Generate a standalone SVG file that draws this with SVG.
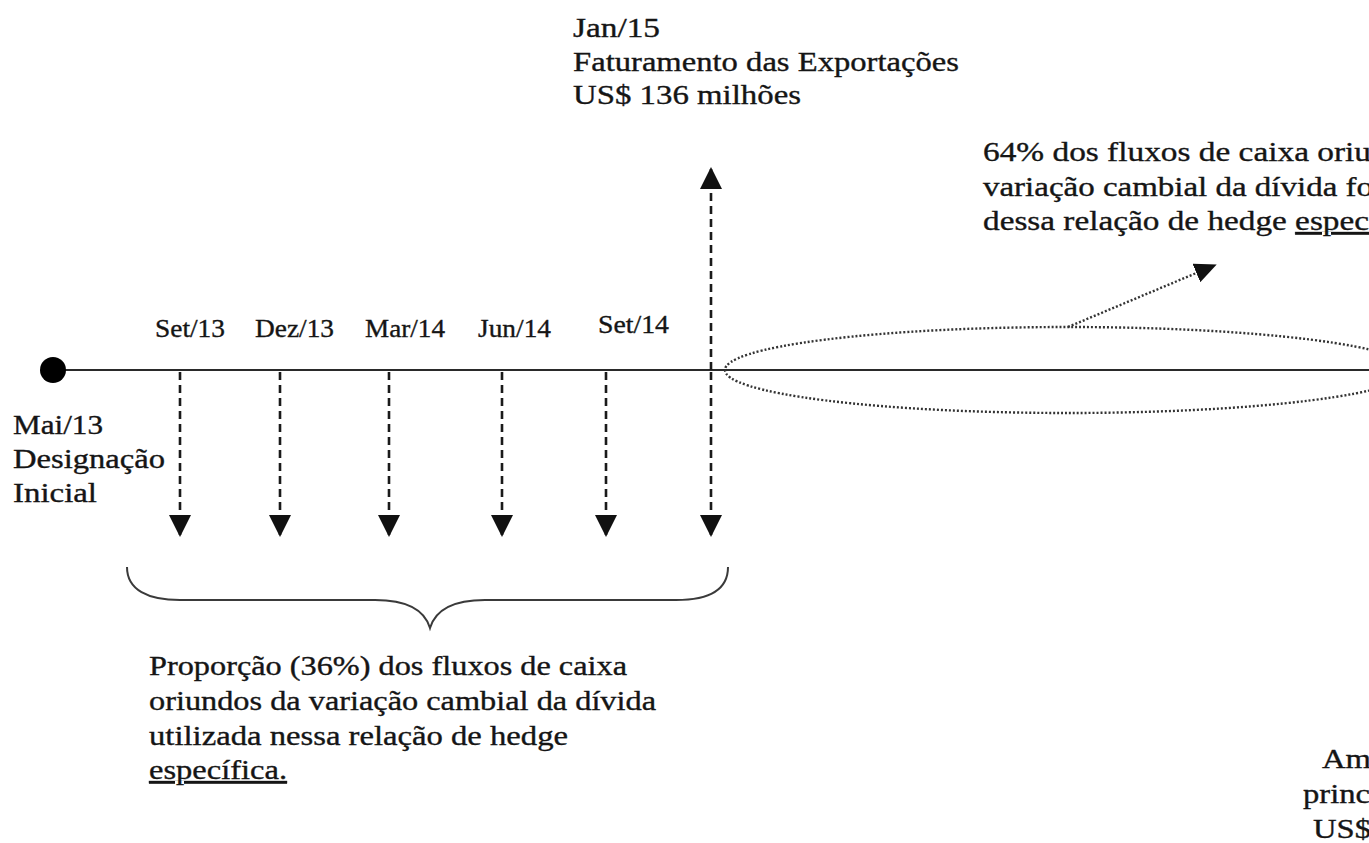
<svg xmlns="http://www.w3.org/2000/svg" width="1369" height="843" viewBox="0 0 1369 843">
  <style>
    .t { font-family: "Liberation Serif", "Times New Roman", serif; font-size: 27px; fill: #151515; stroke: #151515; stroke-width: 0.35; }
    .m { font-size: 26px; }
    .axis { stroke: #2a2a2a; stroke-width: 2.2; fill: none; }
    .flow { stroke: #1a1a1a; stroke-width: 2.6; stroke-dasharray: 8 5; fill: none; }
    .dots { stroke: #333; stroke-width: 2.4; stroke-dasharray: 2 2; fill: none; }
    .brace { stroke: #3a3a3a; stroke-width: 2; fill: none; }
  </style>
  <defs>
    <marker id="head" viewBox="0 0 22 22" refX="20" refY="11" markerWidth="22" markerHeight="22" markerUnits="userSpaceOnUse" orient="auto">
      <path d="M0,0 L22,11 L0,22 z" fill="#111"/>
    </marker>
    <marker id="headSmall" viewBox="0 0 22 20" refX="18" refY="10" markerWidth="22" markerHeight="20" markerUnits="userSpaceOnUse" orient="auto">
      <path d="M0,0 L22,10 L0,20 z" fill="#111"/>
    </marker>
  </defs>

  <rect width="1369" height="843" fill="#fff"/>

  <!-- time axis -->
  <g id="axis">
    <line class="axis" x1="53" y1="370" x2="1369" y2="370"/>
    <circle cx="53" cy="370" r="13" fill="#000"/>
  </g>

  <!-- cash-flow arrows -->
  <g id="connectors">
    <line class="flow" x1="180" y1="372" x2="180" y2="535" marker-end="url(#head)"/>
    <line class="flow" x1="280" y1="372" x2="280" y2="535" marker-end="url(#head)"/>
    <line class="flow" x1="389" y1="372" x2="389" y2="535" marker-end="url(#head)"/>
    <line class="flow" x1="502" y1="372" x2="502" y2="535" marker-end="url(#head)"/>
    <line class="flow" x1="606" y1="372" x2="606" y2="535" marker-end="url(#head)"/>
    <line class="flow" x1="711" y1="372" x2="711" y2="535" marker-end="url(#head)"/>
    <line class="flow" x1="711" y1="370" x2="711" y2="169" marker-end="url(#head)"/>
    <line class="dots" x1="1068" y1="327" x2="1213" y2="266" marker-end="url(#headSmall)"/>
  </g>

  <!-- start of designation -->
  <g id="node-start">
    <text class="t" x="13" y="434" textLength="90" lengthAdjust="spacingAndGlyphs">Mai/13</text>
    <text class="t" x="13" y="468" textLength="152" lengthAdjust="spacingAndGlyphs">Designação</text>
    <text class="t" x="13" y="502" textLength="84" lengthAdjust="spacingAndGlyphs">Inicial</text>
  </g>

  <!-- quarter labels -->
  <g id="node-quarters">
    <text class="t m" x="155" y="337" textLength="70" lengthAdjust="spacingAndGlyphs">Set/13</text>
    <text class="t m" x="255" y="337" textLength="79" lengthAdjust="spacingAndGlyphs">Dez/13</text>
    <text class="t m" x="365" y="337" textLength="80" lengthAdjust="spacingAndGlyphs">Mar/14</text>
    <text class="t m" x="478" y="337" textLength="73" lengthAdjust="spacingAndGlyphs">Jun/14</text>
    <text class="t m" x="598" y="333" textLength="71" lengthAdjust="spacingAndGlyphs">Set/14</text>
  </g>

  <!-- export revenue -->
  <g id="node-exports">
    <text class="t" x="573" y="37" textLength="87" lengthAdjust="spacingAndGlyphs">Jan/15</text>
    <text class="t" x="573" y="71" textLength="386" lengthAdjust="spacingAndGlyphs">Faturamento das Exportações</text>
    <text class="t" x="573" y="104" textLength="228" lengthAdjust="spacingAndGlyphs">US$ 136 milhões</text>
  </g>

  <!-- hedged period -->
  <g id="node-period">
    <ellipse class="dots" cx="1068" cy="370" rx="343" ry="43"/>
  </g>

  <!-- remaining proportion -->
  <g id="node-remaining">
    <text class="t" x="983" y="161" textLength="388" lengthAdjust="spacingAndGlyphs">64% dos fluxos de caixa oriu</text>
    <text class="t" x="983" y="196" textLength="390" lengthAdjust="spacingAndGlyphs">variação cambial da dívida fo</text>
    <text class="t" x="983" y="230" textLength="386" lengthAdjust="spacingAndGlyphs">dessa relação de hedge <tspan text-decoration="underline">espec</tspan></text>
  </g>

  <!-- proportion brace -->
  <g id="node-proportion">
    <path class="brace" d="M127,567 C127,590 148,600 180,600 L375,600 C405,600 424,608 430,628 C436,608 455,600 485,600 L676,600 C708,600 728,590 728,567"/>
    <text class="t" x="149" y="675" textLength="478" lengthAdjust="spacingAndGlyphs">Proporção (36%) dos fluxos de caixa</text>
    <text class="t" x="149" y="710" textLength="507" lengthAdjust="spacingAndGlyphs">oriundos da variação cambial da dívida</text>
    <text class="t" x="149" y="745" textLength="419" lengthAdjust="spacingAndGlyphs">utilizada nessa relação de hedge</text>
    <text class="t" x="149" y="779" textLength="138" lengthAdjust="spacingAndGlyphs" text-decoration="underline">específica.</text>
  </g>

  <!-- principal repayment -->
  <g id="node-principal">
    <text class="t" x="1322" y="768" textLength="49" lengthAdjust="spacingAndGlyphs">Am</text>
    <text class="t" x="1303" y="803" textLength="67" lengthAdjust="spacingAndGlyphs">princ</text>
    <text class="t" x="1313" y="838" textLength="58" lengthAdjust="spacingAndGlyphs">US$</text>
  </g>
</svg>
